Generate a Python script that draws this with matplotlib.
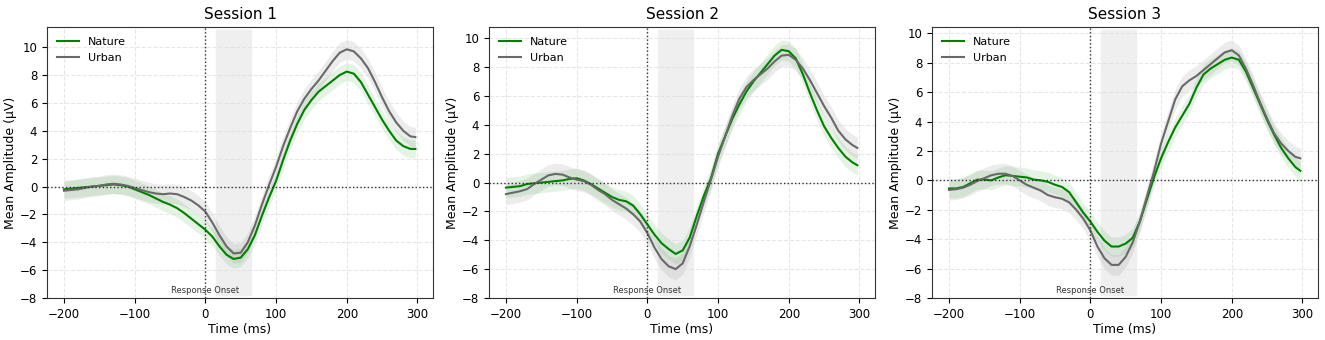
import numpy as np
import matplotlib
matplotlib.use("Agg")
import matplotlib.pyplot as plt

# time points (ms)
t = [-200, -190, -180, -170, -160, -150, -140, -130, -120, -110,
     -100, -90, -80, -70, -60, -50, -40, -30, -20, -10,
     0, 10, 20, 30, 40, 50, 60, 70, 80, 90,
     100, 110, 120, 130, 140, 150, 160, 170, 180, 190,
     200, 210, 220, 230, 240, 250, 260, 270, 280, 290, 297]

# session 1
nature_s1 = [-0.2, -0.15, -0.1, -0.05, 0.0, 0.05, 0.1, 0.15, 0.1, 0.0,
             -0.2, -0.4, -0.6, -0.85, -1.1, -1.3, -1.55, -1.9, -2.3, -2.7,
             -3.1, -3.6, -4.3, -4.9, -5.2, -5.1, -4.5, -3.5, -2.1, -0.8,
             0.4, 1.9, 3.3, 4.5, 5.5, 6.2, 6.8, 7.2, 7.6, 8.0,
             8.25, 8.1, 7.5, 6.6, 5.7, 4.8, 4.0, 3.3, 2.9, 2.7, 2.7]
urban_s1 = [-0.3, -0.25, -0.2, -0.1, 0.0, 0.05, 0.15, 0.2, 0.15, 0.05,
            -0.1, -0.25, -0.4, -0.5, -0.55, -0.5, -0.55, -0.75, -1.0, -1.35,
            -1.8, -2.6, -3.5, -4.3, -4.8, -4.75, -4.0, -2.8, -1.3, 0.1,
            1.4, 2.9, 4.2, 5.4, 6.3, 7.0, 7.6, 8.3, 9.0, 9.6,
            9.85, 9.7, 9.2, 8.5, 7.5, 6.4, 5.4, 4.6, 4.0, 3.6, 3.55]

# session 2
nature_s2 = [-0.35, -0.3, -0.25, -0.1, -0.05, 0.0, 0.05, 0.1, 0.15, 0.25,
             0.3, 0.15, -0.1, -0.4, -0.7, -1.0, -1.2, -1.3, -1.6, -2.2,
             -2.9, -3.6, -4.2, -4.6, -4.95, -4.7, -3.8, -2.3, -0.9, 0.3,
             2.0, 3.2, 4.4, 5.4, 6.3, 7.0, 7.6, 8.2, 8.8, 9.2,
             9.1, 8.6, 7.5, 6.2, 5.0, 3.9, 3.1, 2.4, 1.8, 1.4, 1.2]
urban_s2 = [-0.8, -0.7, -0.6, -0.45, -0.1, 0.2, 0.5, 0.6, 0.55, 0.35,
            0.2, 0.1, -0.15, -0.5, -0.8, -1.2, -1.5, -1.8, -2.2, -2.7,
            -3.5, -4.5, -5.3, -5.8, -6.0, -5.6, -4.4, -2.9, -1.3, 0.2,
            1.8, 3.2, 4.6, 5.8, 6.6, 7.1, 7.5, 7.9, 8.4, 8.8,
            8.85, 8.5, 7.9, 7.1, 6.2, 5.3, 4.5, 3.6, 3.0, 2.6, 2.4]

# session 3
nature_s3 = [-0.55, -0.55, -0.45, -0.2, 0.05, 0.05, 0.0, 0.2, 0.35, 0.3,
             0.25, 0.2, 0.05, 0.0, -0.1, -0.3, -0.45, -0.8, -1.5, -2.2,
             -2.8, -3.5, -4.1, -4.5, -4.5, -4.3, -3.9, -2.8, -1.3, 0.2,
             1.5, 2.6, 3.6, 4.4, 5.2, 6.3, 7.2, 7.6, 7.9, 8.2,
             8.35, 8.2, 7.4, 6.3, 5.2, 4.1, 3.1, 2.2, 1.5, 0.9, 0.65]
urban_s3 = [-0.65, -0.6, -0.5, -0.3, -0.05, 0.15, 0.35, 0.45, 0.45, 0.3,
            0.0, -0.3, -0.5, -0.7, -1.0, -1.15, -1.25, -1.5, -2.0, -2.6,
            -3.4, -4.5, -5.3, -5.75, -5.75, -5.2, -4.2, -2.8, -1.1, 0.6,
            2.5, 4.0, 5.5, 6.4, 6.8, 7.1, 7.5, 7.9, 8.3, 8.7,
            8.85, 8.5, 7.6, 6.5, 5.3, 4.2, 3.2, 2.5, 2.0, 1.6, 1.5]

# half-width of the shaded error band
nature_err = [0.65, 0.7, 0.65]
urban_err = [0.7, 0.75, 0.7]

titles = ['Session 1', 'Session 2', 'Session 3']
y_tops = [11.45, 10.78, 10.43]
window = (15, 65)

sessions = [(nature_s1, urban_s1), (nature_s2, urban_s2), (nature_s3, urban_s3)]

fig = plt.figure(figsize=(13.25, 3.4), dpi=100)
lefts = [47, 489, 932]

for i, (nat, urb) in enumerate(sessions):
    ax = fig.add_axes([lefts[i] / 1325, 1 - 298 / 340, 386 / 1325, 271 / 340])
    tt = np.array(t)
    nat = np.array(nat)
    urb = np.array(urb)

    ax.axvspan(window[0], window[1], ymin=0.012, ymax=0.988, color='#efefef', zorder=0)
    ax.fill_between(tt, urb - urban_err[i], urb + urban_err[i], color='gray', alpha=0.15, lw=0)
    ax.fill_between(tt, nat - nature_err[i], nat + nature_err[i], color='#4caf50', alpha=0.15, lw=0)
    ax.plot(tt, nat, color='green', lw=1.5, label='Nature')
    ax.plot(tt, urb, color='dimgray', lw=1.5, label='Urban')

    ax.axvline(0, color='#333333', ls=':', lw=1)
    ax.axhline(0, color='#333333', ls=':', lw=1)

    ax.set_xlim(-224, 322)
    ax.set_ylim(-8, y_tops[i])
    ax.set_yticks(np.arange(-8, 11, 2))
    ax.set_xticks([-200, -100, 0, 100, 200, 300])
    ax.grid(True, ls='--', color='#dddddd', alpha=0.7, lw=0.8)
    ax.text(0, -7.8, 'Response Onset', fontsize=6, ha='center', va='bottom', color='#333333')

    ax.set_title(titles[i], fontsize=11)
    ax.set_xlabel('Time (ms)', fontsize=9, labelpad=2)
    ax.set_ylabel('Mean Amplitude (µV)', fontsize=9, labelpad=2)
    ax.tick_params(labelsize=8.5)
    for s in ax.spines.values():
        s.set_color('#333333')
    ax.legend(loc='upper left', frameon=False, fontsize=8)

fig.savefig('out.png', dpi=100)
